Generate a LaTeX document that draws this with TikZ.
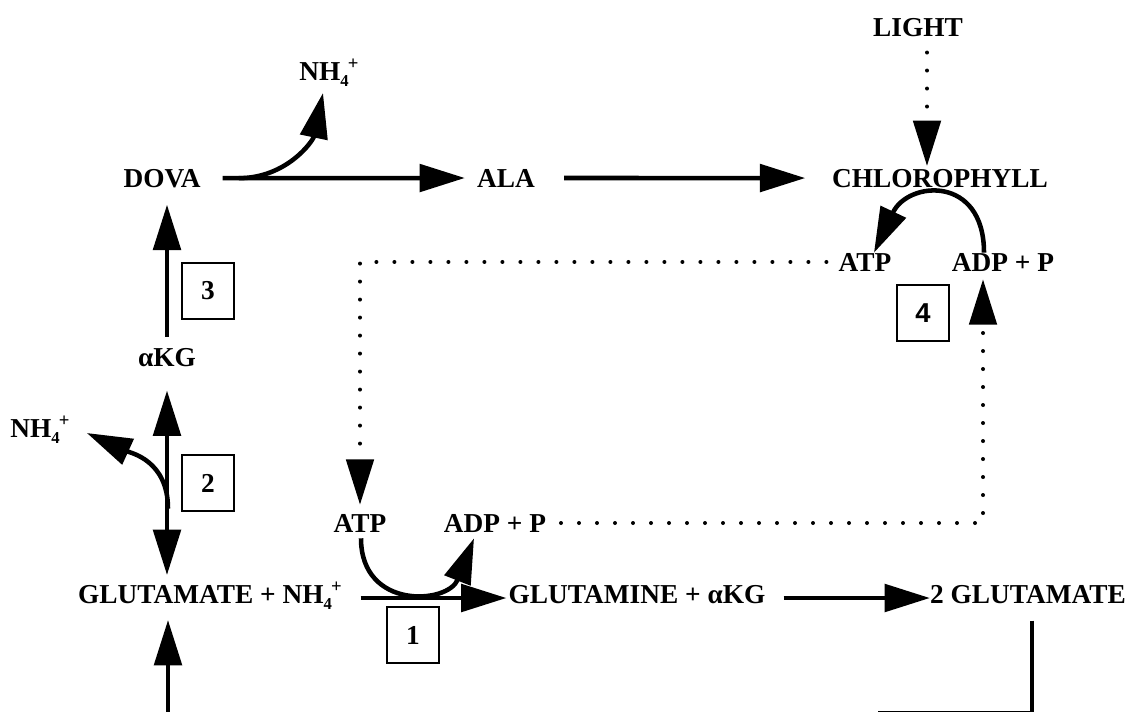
\documentclass[tikz,border=0pt]{standalone}
\usepackage{fontspec}
\setmainfont{Liberation Serif}
\newfontfamily\boxsans{Liberation Sans}
\usetikzlibrary{arrows.meta,calc}
\newcommand{\nhf}{NH\raisebox{-0.24em}{\fontsize{12.5}{12}\selectfont 4}\kern-0.03em\raisebox{0.40em}{\fontsize{14}{12}\selectfont +}}
\begin{document}
\begin{tikzpicture}[x=0.75pt,y=-0.75pt,
  font=\fontsize{20.5}{24}\selectfont\bfseries,
  lbl/.style={inner sep=0pt, anchor=base},
  numbox/.style={draw, line width=1.4pt, minimum width=39pt, minimum height=42pt, inner sep=0pt, anchor=center},
  tipA/.tip={Triangle[length=34pt,width=20.5pt]},
  arr/.style={line width=3.4pt, -tipA},
  arrtwo/.style={line width=3.4pt, tipA-tipA},
  dotarr/.style={line width=3pt, line cap=round, dash pattern=on 0pt off 13.5pt, -tipA},
  plainline/.style={line width=3.4pt}]
\useasboundingbox (0,0) rectangle (1134,711);

% labels
\node[lbl] (light) at (918,36) {LIGHT};
\node[lbl] (chl) at (940,187) {CHLOROPHYLL};
\node[lbl] (dova) at (162,187) {DOVA};
\node[lbl] (ala) at (506,187) {ALA};
\node[lbl] (nhT) at (329,80) {\nhf};
\node[lbl] (atpU) at (865,271) {ATP};
\node[lbl] (adpU) at (1003,271) {ADP + P};
\node[lbl] (akg) at (167,366) {αKG};
\node[lbl] (nhL) at (40,437) {\nhf};
\node[lbl] (atpL) at (360,532) {ATP};
\node[lbl] (adpL) at (495,532) {ADP + P};
\node[lbl] (glu) at (210,603) {GLUTAMATE + \nhf};
\node[lbl] (gln) at (637,603) {GLUTAMINE + αKG};
\node[lbl] (glutwo) at (1028,603) {2 GLUTAMATE};

% enzyme boxes
\node[numbox] (e3) at (208,291) {3};
\node[numbox] (e2) at (208,483) {2};
\node[numbox] (e1) at (413,635) {1};
\node[numbox] (e4) at (923,313) {\boxsans\bfseries 4};

% main straight arrows
\draw[arr, shorten <=16.5pt, shorten >=9pt] (dova) -- (ala);
\draw[arr, shorten <=21.75pt, shorten >=20pt] (ala) -- (chl);

% light
\coordinate (lt) at ([xshift=6.75pt]light.south);
\draw[dotarr, shorten <=12pt, shorten >=2pt] (lt) -- (lt |- chl.north);

% DOVA -> NH4+
\coordinate (c3s) at ([xshift=28.5pt]dova.east);
\coordinate (c3e) at ([xshift=-4.5pt,yshift=-9.75pt]nhT.base);
\draw[arr] (c3s) .. controls +(48,0) and +(-10,48) .. (c3e);

% aKG -> DOVA
\draw[arr, shorten <=8pt, shorten >=12.75pt] (akg.north) -- (akg.north |- dova.south);

% aKG <-> glutamate
\draw[arrtwo, shorten <=18pt, shorten >=21pt] (akg.south) -- (akg.south |- glu.base);

% side NH4+
\coordinate (c2s) at ($(akg.south)+(1,142)$);
\coordinate (c2e) at ([xshift=12.75pt,yshift=3pt]nhL.base east);
\draw[arr] (c2s) .. controls +(0,-48) and +(44,20) .. (c2e);

% bottom left arrow into glutamate
\coordinate (lb) at (168,716);
\draw[arr, shorten >=12.75pt] (lb) -- (lb |- glu.base);

% chlorophyll ATP cycle (4)
\coordinate (c4s) at ([xshift=-14.25pt]adpU.north);
\coordinate (c4e) at ([xshift=6.75pt]atpU.north);
\draw[arr] (c4s) .. controls +(0,-78) and +(34,-72) .. (c4e);

% dotted ATP transfer
\draw[dotarr, shorten <=9pt, shorten >=6.75pt] (atpU.west) -| (atpL.north);
\coordinate (dU) at ([xshift=-15pt]adpU.south);
\draw[dotarr, shorten <=11pt, shorten >=6pt] (adpL.east) -| (dU);

% ATP -> ADP (1)
\coordinate (c1s) at ([xshift=0.75pt]atpL.south);
\coordinate (c1e) at ([xshift=-15.75pt,yshift=-4.5pt]adpL.south);
\draw[arr, shorten <=4.5pt] (c1s) .. controls +(0,78) and +(-26,66) .. (c1e);

% glutamate -> glutamine -> 2 glutamate
\coordinate (g1) at ([yshift=3.75pt]glu.base east);
\draw[arr, shorten <=14pt, shorten >=1.5pt] (g1) -- (g1 -| gln.west);
\coordinate (g2) at ([yshift=3.75pt]gln.base east);
\draw[arr, shorten <=13.5pt] (g2) -- (g2 -| glutwo.west);

% return line from 2 glutamate
\coordinate (r1) at ([xshift=3pt]glutwo.south);
\coordinate (rb) at (878,713);
\draw[plainline, shorten <=12.75pt] (r1) |- (rb);
\end{tikzpicture}
\end{document}
